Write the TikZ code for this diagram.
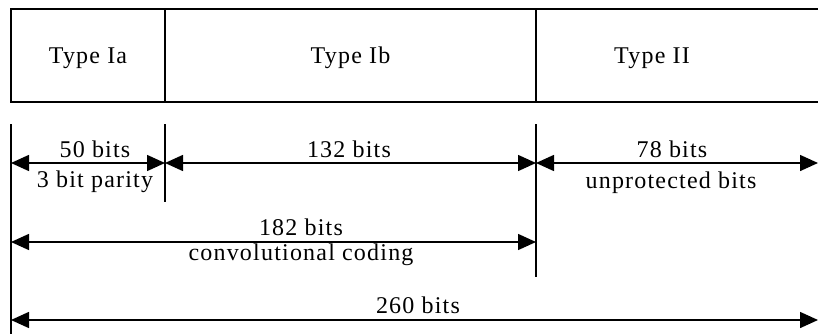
\documentclass[tikz,border=0pt]{standalone}
\usepackage{fontspec}
\setmainfont[LetterSpace=5]{Liberation Serif}
\usetikzlibrary{arrows.meta,positioning}

\begin{document}
\begin{tikzpicture}[x=1pt,y=-1pt,>={Triangle[length=18pt,width=16pt]},font=\fontsize{24}{28}\selectfont]
      \tikzstyle{field}=[rectangle,draw,line width=1.5pt,minimum height=93pt,inner sep=0pt,text depth=0pt]
      \tikzstyle{guide}=[line width=1.5pt]
      \tikzstyle{span}=[<->,line width=1.5pt]
      \tikzstyle{lbl}=[anchor=base,inner sep=0pt]
      \path[fill=white,use as bounding box](0,0) rectangle (818,334);
      \clip(0,0) rectangle (818,334);
      % the frame
      \node[field,minimum width=154pt](ia) at (88,55.5){Type Ia};
      \node[field,minimum width=371pt](ib) at (350.5,55.5){Type Ib};
      \node[field,minimum width=300pt](ii) at (686,55.5){};
      \node[text depth=0pt](ii-txt) at (652,55.5){Type II};
      % vertical marks
      \coordinate(g0-top) at (11,124);
      \coordinate(g0-bot) at (11,340);
      \coordinate(g1-top) at (165,124);
      \coordinate(g1-bot) at (165,202);
      \coordinate(g2-top) at (536,124);
      \coordinate(g2-bot) at (536,277);
      \draw[guide](g0-top)--(g0-bot);
      \draw[guide](g1-top)--(g1-bot);
      \draw[guide](g2-top)--(g2-bot);
      % arrow ends
      \coordinate(a0) at (11,163);
      \coordinate(a1) at (165,163);
      \coordinate(a2) at (536,163);
      \coordinate(a3) at (818,163);
      \coordinate(b0) at (11,242);
      \coordinate(b2) at (536,242);
      \coordinate(c0) at (11,320);
      \coordinate(c3) at (818,320);
      \draw[span](a0)--(a1);
      \draw[span](a1)--(a2);
      \draw[span](a2)--(a3);
      \draw[span](b0)--(b2);
      \draw[span](c0)--(c3);
      % bit counts
      \node[lbl](n-ia) at (95,157){50 bits};
      \node[lbl](p-ia) at (95,187){3 bit parity};
      \node[lbl](n-ib) at (349,157){132 bits};
      \node[lbl](n-ii) at (672,157){78 bits};
      \node[lbl](p-ii) at (671,188){unprotected bits};
      \node[lbl](n-cc) at (301,235){182 bits};
      \node[lbl](p-cc) at (301,260){convolutional coding};
      \node[lbl](n-all) at (418,313){260 bits};
    \end{tikzpicture}
\end{document}
